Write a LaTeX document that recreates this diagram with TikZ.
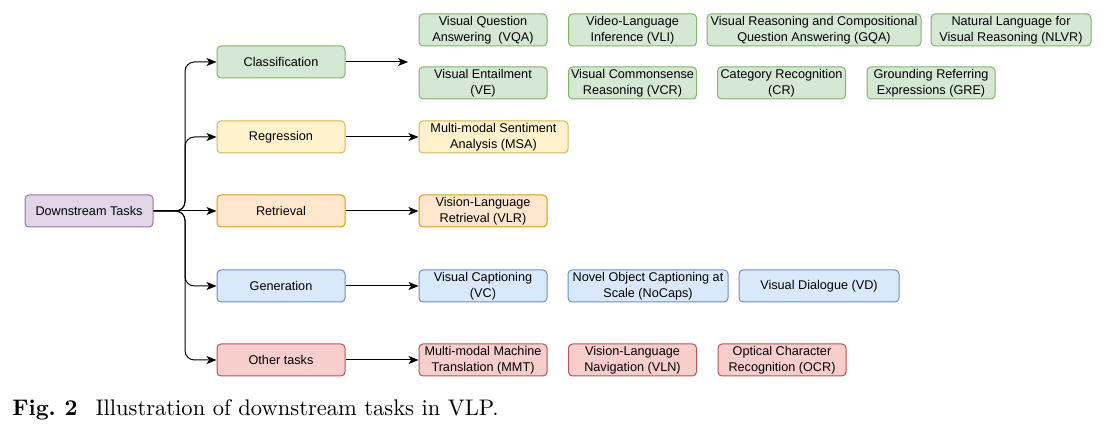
\documentclass[tikz,border=0pt]{standalone}
\usepackage{fontspec}
\usepackage{graphicx}
\newfontfamily\boxfont{Liberation Sans}
\usetikzlibrary{arrows.meta}
\definecolor{pfill}{HTML}{E1D5E7}\definecolor{pdraw}{HTML}{9673A6}
\definecolor{gfill}{HTML}{D5E8D4}\definecolor{gdraw}{HTML}{82B366}
\definecolor{yfill}{HTML}{FFF2CC}\definecolor{ydraw}{HTML}{D6B656}
\definecolor{ofill}{HTML}{FFE6CC}\definecolor{odraw}{HTML}{D79B00}
\definecolor{bfill}{HTML}{DAE8FC}\definecolor{bdraw}{HTML}{6C8EBF}
\definecolor{rfill}{HTML}{F8CECC}\definecolor{rdraw}{HTML}{B85450}
\begin{document}
\begin{tikzpicture}[x=0.75pt,y=-0.75pt,
  box/.style={draw, rounded corners=3pt, line width=0.75pt, inner sep=0pt,
    minimum height=24pt, align=center, font=\boxfont\fontsize{9.5}{11.6}\selectfont},
  w128/.style={minimum width=96pt},
  w149/.style={minimum width=111.75pt},
  w160/.style={minimum width=120pt},
  w214/.style={minimum width=160.5pt},
  pbox/.style={box, fill=pfill, draw=pdraw},
  gbox/.style={box, fill=gfill, draw=gdraw},
  ybox/.style={box, fill=yfill, draw=ydraw},
  obox/.style={box, fill=ofill, draw=odraw},
  bbox/.style={box, fill=bfill, draw=bdraw},
  rbox/.style={box, fill=rfill, draw=rdraw},
  arr/.style={-{Stealth[length=7.5pt,width=6pt,inset=2pt]}, line width=0.75pt, black},
]
\useasboundingbox (0,0) rectangle (1108,434);

% root and categories
\node[pbox,w128] (dt) at (89,211) {Downstream Tasks};
\node[gbox,w128] (cls) at (281,62) {Classification};
\node[ybox,w128] (reg) at (281,137) {Regression};
\node[obox,w128] (ret) at (281,211) {Retrieval};
\node[bbox,w128] (gen) at (281,286) {Generation};
\node[rbox,w128] (oth) at (281,360) {Other tasks};

% classification leaves
\node[gbox,w128] (vqa) at (483,30) {Visual Question\\Answering~ (VQA)};
\node[gbox,w128] (vli) at (632.5,30) {Video-Language\\Inference (VLI)};
\node[gbox,w214] (gqa) at (814,30) {Visual Reasoning and Compositional\\Question Answering (GQA)};
\node[gbox,w160] (nlvr) at (1011,30) {Natural Language for\\Visual Reasoning (NLVR)};
\node[gbox,w128] (ve) at (483,83) {Visual Entailment\\(VE)};
\node[gbox,w128] (vcr) at (632.5,83) {Visual Commonsense\\Reasoning (VCR)};
\node[gbox,w128] (cr) at (781.5,83) {Category Recognition\\(CR)};
\node[gbox,w128] (gre) at (931,83) {Grounding Referring\\Expressions (GRE)};

% other leaves
\node[ybox,w149] (msa) at (493.5,137) {Multi-modal Sentiment\\Analysis (MSA)};
\node[obox,w128] (vlr) at (483,211) {Vision-Language\\Retrieval (VLR)};
\node[bbox,w128] (vc) at (483,286) {Visual Captioning\\(VC)};
\node[bbox,w160] (nocaps) at (648,286) {Novel Object Captioning at\\Scale (NoCaps)};
\node[bbox,w160] (vd) at (819,286) {Visual Dialogue (VD)};
\node[rbox,w128] (mmt) at (483,360) {Multi-modal Machine\\Translation (MMT)};
\node[rbox,w128] (vln) at (632.5,360) {Vision-Language\\Navigation (VLN)};
\node[rbox,w128] (ocr) at (782,360) {Optical Character\\Recognition (OCR)};

% tree connectors
\coordinate (fork) at (185,211);
\coordinate (clsend) at (408,62);
\draw[arr, rounded corners=7pt] (dt.east) -- (fork) |- (cls.west);
\draw[arr, rounded corners=7pt] (dt.east) -- (fork) |- (reg.west);
\draw[arr] (dt.east) -- (ret.west);
\draw[arr, rounded corners=7pt] (dt.east) -- (fork) |- (gen.west);
\draw[arr, rounded corners=7pt] (dt.east) -- (fork) |- (oth.west);

\draw[arr] (cls.east) -- (clsend);
\draw[arr] (reg.east) -- (msa.west);
\draw[arr] (ret.east) -- (vlr.west);
\draw[arr] (gen.east) -- (vc.west);
\draw[arr] (oth.east) -- (mmt.west);

% caption
\node[anchor=base west, inner sep=0pt] (cap) at (12,416)
  {\scalebox{1.69}{\fontsize{10}{12}\selectfont\textbf{Fig.\ 2}\hspace{8pt}Illustration of downstream tasks in VLP.}};
\end{tikzpicture}
\end{document}
